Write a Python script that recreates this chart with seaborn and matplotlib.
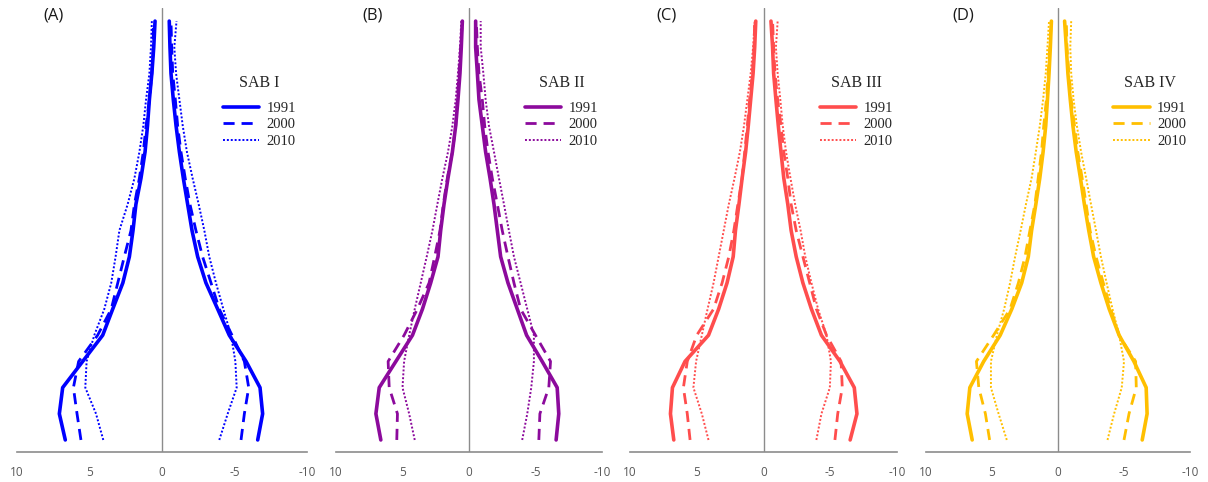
import numpy as np
import pandas as pd
import matplotlib.pyplot as plt
import seaborn as sns
from matplotlib.lines import Line2D

# age groups 0-4 ... 80+ (index 0 = youngest, bottom)
ages = list(range(17))
years = ['1991', '2000', '2010']

# values, youngest -> oldest
# left side (positive axis)   /   right side (negative axis, stored as magnitude)
A_left = {
    '1991': [6.67, 7.08, 6.85, 5.47, 4.09, 3.4, 2.7, 2.25, 2.0, 1.8, 1.45, 1.17, 1.0, 0.87, 0.7, 0.57, 0.48],
    '2000': [5.59, 5.86, 6.11, 5.75, 4.44, 3.5, 3.05, 2.6, 2.14, 1.9, 1.56, 1.29, 1.1, 0.87, 0.7, 0.6, 0.6],
    '2010': [4.05, 4.55, 5.29, 5.2, 4.67, 3.98, 3.5, 3.2, 2.94, 2.37, 1.9, 1.56, 1.29, 1.1, 0.87, 0.76, 0.7],
}
A_right = {
    '1991': [6.6, 6.94, 6.76, 5.8, 4.64, 3.84, 3.03, 2.46, 2.07, 1.77, 1.47, 1.2, 0.97, 0.78, 0.62, 0.55, 0.5],
    '2000': [5.45, 5.68, 5.98, 5.68, 4.83, 3.95, 3.38, 2.8, 2.34, 1.93, 1.6, 1.31, 1.08, 0.92, 0.74, 0.67, 0.62],
    '2010': [3.95, 4.53, 5.15, 5.06, 4.76, 4.23, 3.72, 3.26, 2.92, 2.53, 2.11, 1.72, 1.43, 1.2, 0.97, 0.85, 1.0],
}
B_left = {
    '1991': [6.63, 7.0, 6.75, 5.5, 4.25, 3.5, 2.88, 2.33, 2.13, 1.88, 1.58, 1.25, 1.0, 0.83, 0.68, 0.58, 0.5],
    '2000': [5.43, 5.38, 6.0, 6.08, 4.88, 3.88, 3.0, 2.58, 2.18, 1.93, 1.63, 1.25, 1.0, 0.88, 0.75, 0.63, 0.5],
    '2010': [4.08, 4.5, 5.0, 4.88, 4.5, 4.08, 3.63, 3.18, 2.75, 2.38, 2.0, 1.58, 1.25, 1.0, 0.83, 0.68, 0.58],
}
B_right = {
    '1991': [6.55, 6.75, 6.63, 5.5, 4.33, 3.63, 2.93, 2.38, 2.13, 1.88, 1.58, 1.25, 1.0, 0.75, 0.63, 0.5, 0.5],
    '2000': [5.25, 5.33, 6.0, 6.13, 5.0, 3.88, 3.38, 2.93, 2.5, 2.13, 1.75, 1.43, 1.18, 1.0, 0.75, 0.63, 0.55],
    '2010': [4.0, 4.38, 4.68, 4.88, 4.88, 4.38, 3.88, 3.38, 3.0, 2.63, 2.25, 1.88, 1.5, 1.25, 1.08, 0.88, 0.88],
}
C_left = {
    '1991': [6.72, 6.97, 6.82, 5.88, 4.12, 3.36, 2.73, 2.27, 2.1, 1.84, 1.6, 1.34, 1.14, 0.96, 0.78, 0.66, 0.58],
    '2000': [5.5, 5.71, 6.0, 5.71, 5.0, 3.74, 3.1, 2.6, 2.22, 1.92, 1.6, 1.41, 1.21, 1.04, 0.83, 0.71, 0.66],
    '2010': [4.12, 4.62, 5.25, 5.05, 4.62, 4.19, 3.74, 3.36, 2.98, 2.6, 2.17, 1.77, 1.46, 1.21, 0.96, 0.78, 0.66],
}
C_right = {
    '1991': [6.49, 7.0, 6.8, 5.73, 4.34, 3.59, 2.95, 2.45, 2.07, 1.82, 1.52, 1.31, 1.11, 0.93, 0.76, 0.68, 0.56],
    '2000': [5.35, 5.56, 5.9, 5.81, 4.72, 3.96, 3.46, 2.95, 2.45, 2.07, 1.82, 1.52, 1.31, 1.06, 0.86, 0.76, 0.68],
    '2010': [3.96, 4.34, 4.97, 5.05, 4.72, 4.09, 3.59, 3.13, 2.78, 2.37, 2.02, 1.69, 1.44, 1.26, 1.06, 0.93, 1.06],
}
D_left = {
    '1991': [6.5, 6.88, 6.68, 5.63, 4.38, 3.5, 2.75, 2.25, 2.0, 1.68, 1.38, 1.13, 0.93, 0.8, 0.68, 0.58, 0.5],
    '2000': [5.18, 5.5, 6.0, 6.18, 4.88, 3.63, 3.0, 2.5, 2.13, 1.75, 1.5, 1.25, 1.08, 0.88, 0.75, 0.63, 0.5],
    '2010': [3.88, 4.5, 5.08, 5.08, 4.63, 4.08, 3.63, 3.25, 2.83, 2.43, 2.0, 1.68, 1.38, 1.13, 0.93, 0.8, 0.68],
}
D_right = {
    '1991': [6.38, 6.75, 6.68, 5.75, 4.63, 3.88, 3.25, 2.7, 2.33, 2.0, 1.7, 1.38, 1.13, 0.93, 0.75, 0.63, 0.5],
    '2000': [5.0, 5.38, 5.93, 5.88, 4.63, 4.0, 3.43, 2.88, 2.43, 2.13, 1.83, 1.5, 1.25, 1.0, 0.83, 0.68, 0.63],
    '2010': [3.75, 4.25, 4.83, 5.0, 4.63, 4.13, 3.68, 3.25, 2.88, 2.5, 2.13, 1.75, 1.43, 1.18, 1.0, 0.93, 1.0],
}

panels = [
    ('(A)', 'SAB I', '#0000ff', A_left, A_right),
    ('(B)', 'SAB II', '#8c0a9c', B_left, B_right),
    ('(C)', 'SAB III', '#ff4d4d', C_left, C_right),
    ('(D)', 'SAB IV', '#ffbf00', D_left, D_right),
]
xticks = [10, 5, 0, -5, -10]

styles = {'1991': ('-', 2.6), '2000': ((0, (4, 2.5)), 2.0), '2010': ((0, (1, 1)), 1.4)}

sns.set_style('white')
fig = plt.figure(figsize=(12.08, 4.82), dpi=100)
W, H = 1208, 482

# axes boxes in pixels: left, right
boxes = [(17, 307), (336, 602), (630, 897), (926, 1190)]
top_px, bot_px = 8, 452

for (tag, name, color, left, right), (x0, x1) in zip(panels, boxes):
    ax = fig.add_axes([x0 / W, 1 - bot_px / H, (x1 - x0) / W, (bot_px - top_px) / H])
    for yr in years:
        ls, lw = styles[yr]
        sns.lineplot(x=left[yr], y=ages, orient='y', color=color, lw=lw,
                     linestyle=ls, ax=ax, estimator=None)
        sns.lineplot(x=[-v for v in right[yr]], y=ages, orient='y', color=color,
                     lw=lw, linestyle=ls, ax=ax, estimator=None)
    ax.axvline(0, color='#8c8c8c', lw=1.0, zorder=0)
    ax.set_xlim(10, -10)
    ax.set_ylim(-0.46, 16.5)
    ax.set_xticks(xticks)
    ax.set_xticklabels([str(t) for t in xticks], fontsize=8.5, color='#595959',
                       family='Open Sans')
    ax.tick_params(axis='x', length=0, pad=10)
    ax.set_yticks([])
    ax.set_xlabel('')
    ax.set_ylabel('')
    for s in ['left', 'right', 'top']:
        ax.spines[s].set_visible(False)
    ax.spines['bottom'].set_color('#8c8c8c')
    ax.spines['bottom'].set_linewidth(1.2)

    handles = [Line2D([], [], color=color, linestyle=styles[y][0], lw=styles[y][1])
               for y in years]
    leg = ax.legend(handles, years, title=name, loc='upper left',
                    bbox_to_anchor=(0.71, 0.85), frameon=False,
                    prop={'family': 'Liberation Serif', 'size': 10.5},
                    handlelength=2.5, handletextpad=0.5, labelspacing=0.22,
                    borderpad=0, borderaxespad=0)
    leg.get_title().set_fontfamily('Liberation Serif')
    leg.get_title().set_fontsize(11.5)
    leg._legend_box.sep = 8

    fig.text((x0 + 26) / W, 1 - 16 / H, tag, fontsize=12, family='Open Sans',
             va='center', ha='left', color='#1a1a1a')

fig.savefig('out.png', dpi=100)
